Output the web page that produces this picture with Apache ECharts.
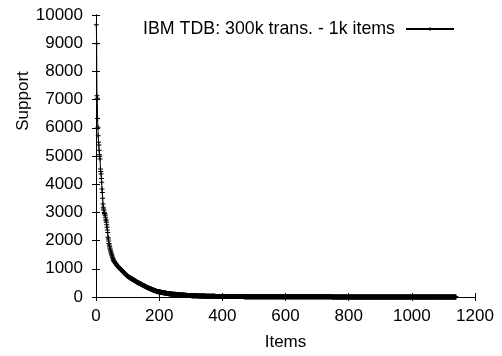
<!DOCTYPE html>
<html>
<head>
<meta charset="utf-8">
<script src="https://cdn.jsdelivr.net/npm/echarts@6/dist/echarts.min.js"></script>
<style>
  html, body { margin: 0; padding: 0; background: #fff; }
  #chart { width: 502px; height: 356px; }
</style>
</head>
<body>
<div id="chart"></div>
<script>
// Item supports, sorted in decreasing order (rank 1 = most frequent item)
const seriesName = 'IBM TDB: 300k trans. - 1k items';
const xAxisTitle = 'Items';
const yAxisTitle = 'Support';

// ranks 1-200
const supportHead = [
  9650,8980,7140,7050,6330,6020,5720,5490,5390,5200,
  5040,4990,4890,4540,4450,4360,4200,4070,3830,3710,
  3500,3300,3180,3120,3080,3000,2960,2940,2900,2830,
  2760,2700,2650,2560,2470,2380,2290,2120,2060,1990,
  1900,1840,1800,1740,1690,1640,1600,1560,1525,1490,
  1450,1410,1380,1350,1320,1290,1270,1255,1240,1220,
  1205,1190,1175,1160,1140,1125,1110,1100,1090,1078,
  1066,1052,1040,1028,1015,1003,992,980,970,958,
  948,940,930,918,906,895,884,872,860,850,
  838,826,814,802,790,778,766,755,748,740,
  732,724,716,708,700,692,684,679,670,663,
  656,650,645,640,633,626,619,612,603,598,
  591,584,577,570,563,556,549,542,535,528,
  521,514,507,504,500,494,488,482,476,470,
  464,458,452,446,440,434,428,422,416,410,
  404,398,392,386,380,374,368,362,356,350,
  345,340,335,330,325,320,315,310,305,300,
  296,292,287,283,278,274,269,265,260,256,
  251,247,242,238,233,229,224,220,215,211,
  207,203,199,195,192,189,186,184,182,180
];

// ranks 201-500
const supportMid = [
  178,176,173,171,169,167,165,163,161,158,
  156,154,152,150,148,146,144,142,140,138,
  136,134,132,130,128,126,124,123,121,119,
  117,115,114,112,110,109,107,106,104,103,
  101,100,99,98,97,96,96,95,95,94,
  93,92,91,90,89,88,87,86,85,84,
  83,82,81,80,79,78,77,76,75,74,
  73,72,71,70,69,68,67,66,65,64,
  63,62,61,60,59,58,57,56,55,55,
  54,54,53,53,52,52,51,51,50,50,
  49,49,48,48,47,47,46,46,45,45,
  44,44,43,43,43,42,42,41,41,41,
  40,40,39,39,39,38,38,37,37,37,
  36,36,36,35,35,35,34,34,34,33,
  33,33,32,32,32,31,31,31,30,30,
  30,29,29,29,28,28,28,28,27,27,
  27,26,26,26,26,25,25,25,25,24,
  24,24,24,23,23,23,23,22,22,22,
  22,22,21,21,21,21,21,21,20,20,
  20,20,20,20,20,19,19,19,19,19,
  19,19,19,19,19,19,19,18,18,18,
  18,18,18,18,18,18,18,18,18,17,
  17,17,17,17,17,17,17,17,17,17,
  17,16,16,16,16,16,16,16,16,16,
  16,16,16,15,15,15,15,15,15,15,
  15,15,15,15,15,15,14,14,14,14,
  14,14,14,14,14,14,14,14,14,13,
  13,13,13,13,13,13,13,13,13,13,
  13,13,12,12,12,12,12,12,12,12,
  12,12,12,12,12,12,12,12,11,11
];

// ranks 501-1140
const supportTail = [
  11,11,11,11,11,11,11,11,11,11,11,11,11,11,11,11,11,11,11,11,
  11,11,11,11,11,10,10,10,10,10,10,10,10,10,10,10,10,10,10,10,
  10,10,10,10,10,10,10,10,10,10,9,9,9,9,9,9,9,9,9,9,
  9,9,9,9,9,9,9,9,9,9,9,9,9,9,9,8,8,8,8,8,
  8,8,8,8,8,8,8,8,8,8,8,8,8,8,8,8,8,8,8,8,
  7,7,7,7,7,7,7,7,7,7,7,7,7,7,7,7,7,7,7,7,
  7,7,7,7,7,7,7,7,7,7,7,7,7,7,7,7,7,7,7,7,
  7,7,7,7,7,6,6,6,6,6,6,6,6,6,6,6,6,6,6,6,
  6,6,6,6,6,6,6,6,6,6,6,6,6,6,6,6,6,6,6,6,
  6,6,6,6,6,6,6,6,6,6,6,6,6,6,6,5,5,5,5,5,
  5,5,5,5,5,5,5,5,5,5,5,5,5,5,5,5,5,5,5,5,
  5,5,5,5,5,5,5,5,5,5,5,5,5,5,5,5,5,5,5,5,
  5,5,5,5,5,5,5,4,4,4,4,4,4,4,4,4,4,4,4,4,
  4,4,4,4,4,4,4,4,4,4,4,4,4,4,4,4,4,4,4,4,
  4,4,4,4,4,4,4,4,4,4,4,4,4,4,4,4,4,4,4,4,
  3,3,3,3,3,3,3,3,3,3,3,3,3,3,3,3,3,3,3,3,
  3,3,3,3,3,3,3,3,3,3,3,3,3,3,3,3,3,3,3,3,
  3,3,3,3,3,3,3,3,3,3,3,3,3,3,3,3,3,3,3,3,
  3,3,3,3,3,3,3,3,3,3,3,3,3,3,3,3,3,3,3,3,
  3,3,3,3,3,3,3,3,3,3,3,3,3,3,3,3,3,3,3,3,
  2,2,2,2,2,2,2,2,2,2,2,2,2,2,2,2,2,2,2,2,
  2,2,2,2,2,2,2,2,2,2,2,2,2,2,2,2,2,2,2,2,
  2,2,2,2,2,2,2,2,2,2,2,2,2,2,2,2,2,2,2,2,
  2,2,2,2,2,2,2,2,2,2,2,2,2,2,2,2,2,2,2,2,
  2,2,2,2,2,2,2,2,2,2,2,2,2,2,2,2,2,2,2,2,
  2,2,2,2,2,2,2,2,2,2,2,2,2,2,2,2,2,2,2,2,
  2,2,2,2,2,2,2,2,2,2,2,2,2,2,2,2,2,2,2,2,
  2,2,2,2,2,2,2,2,2,2,
  1,1,1,1,1,1,1,1,1,1,1,1,1,1,1,1,1,1,1,1,
  1,1,1,1,1,1,1,1,1,1,1,1,1,1,1,1,1,1,1,1,
  1,1,1,1,1,1,1,1,1,1,1,1,1,1,1,1,1,1,1,1,
  1,1,1,1,1,1,1,1,1,1,1,1,1,1,1,1,1,1,1,1,
  1,1,1,1,1,1,1,1,1,1
];

const support = supportHead.concat(supportMid, supportTail);
const points = support.map((v, i) => [i + 1, v]);

const FONT = '"Liberation Sans", Arial, Helvetica, sans-serif';
const plusMark = 'path://M4,0H6V4H10V6H6V10H4V6H0V4H4Z';
const plainNumber = (v) => String(v);

const frameAxis = {
  axisLine: { lineStyle: { color: '#000', width: 1 } },
  axisTick: { inside: true, length: 4, lineStyle: { color: '#000', width: 1 } },
  splitLine: { show: false }
};

const chart = echarts.init(document.getElementById('chart'), null, { renderer: 'canvas' });
chart.setOption({
  animation: false,
  backgroundColor: '#fff',
  grid: { left: 96, right: 27, top: 15, bottom: 58 },
  legend: {
    right: 47,
    top: 20,
    padding: 0,
    align: 'right',
    itemWidth: 48,
    itemHeight: 5,
    textStyle: { fontSize: 17.8, color: '#000', fontFamily: FONT, padding: [0, 6, 0, 0] },
    data: [seriesName]
  },
  graphic: [{
    type: 'text',
    x: 23,
    y: 101,
    rotation: Math.PI / 2,
    style: {
      text: yAxisTitle,
      fontSize: 17,
      fontFamily: FONT,
      fill: '#000',
      align: 'center',
      verticalAlign: 'middle'
    }
  }],
  xAxis: [
    Object.assign({
      type: 'value', min: 0, max: 1200, interval: 200,
      name: xAxisTitle, nameLocation: 'middle', nameGap: 37,
      nameTextStyle: { fontSize: 17, color: '#000', fontFamily: FONT },
      axisLabel: { fontSize: 17, color: '#000', fontFamily: FONT, margin: 11, formatter: plainNumber }
    }, frameAxis),
    Object.assign({
      type: 'value', position: 'top', min: 0, max: 1200, interval: 200,
      axisLabel: { show: false }
    }, frameAxis)
  ],
  yAxis: [
    Object.assign({
      type: 'value', min: 0, max: 10000, interval: 1000,
      axisLabel: { fontSize: 17, color: '#000', fontFamily: FONT, margin: 13, formatter: plainNumber }
    }, frameAxis),
    Object.assign({
      type: 'value', position: 'right', min: 0, max: 10000, interval: 1000,
      axisLabel: { show: false }
    }, frameAxis)
  ],
  series: [{
    name: seriesName,
    type: 'line',
    xAxisIndex: 0,
    yAxisIndex: 0,
    z: 5,
    clip: false,
    data: points,
    symbol: plusMark,
    symbolSize: 5,
    showAllSymbol: true,
    lineStyle: { color: '#000', width: 1 },
    itemStyle: { color: '#000' }
  }]
});
</script>
</body>
</html>
